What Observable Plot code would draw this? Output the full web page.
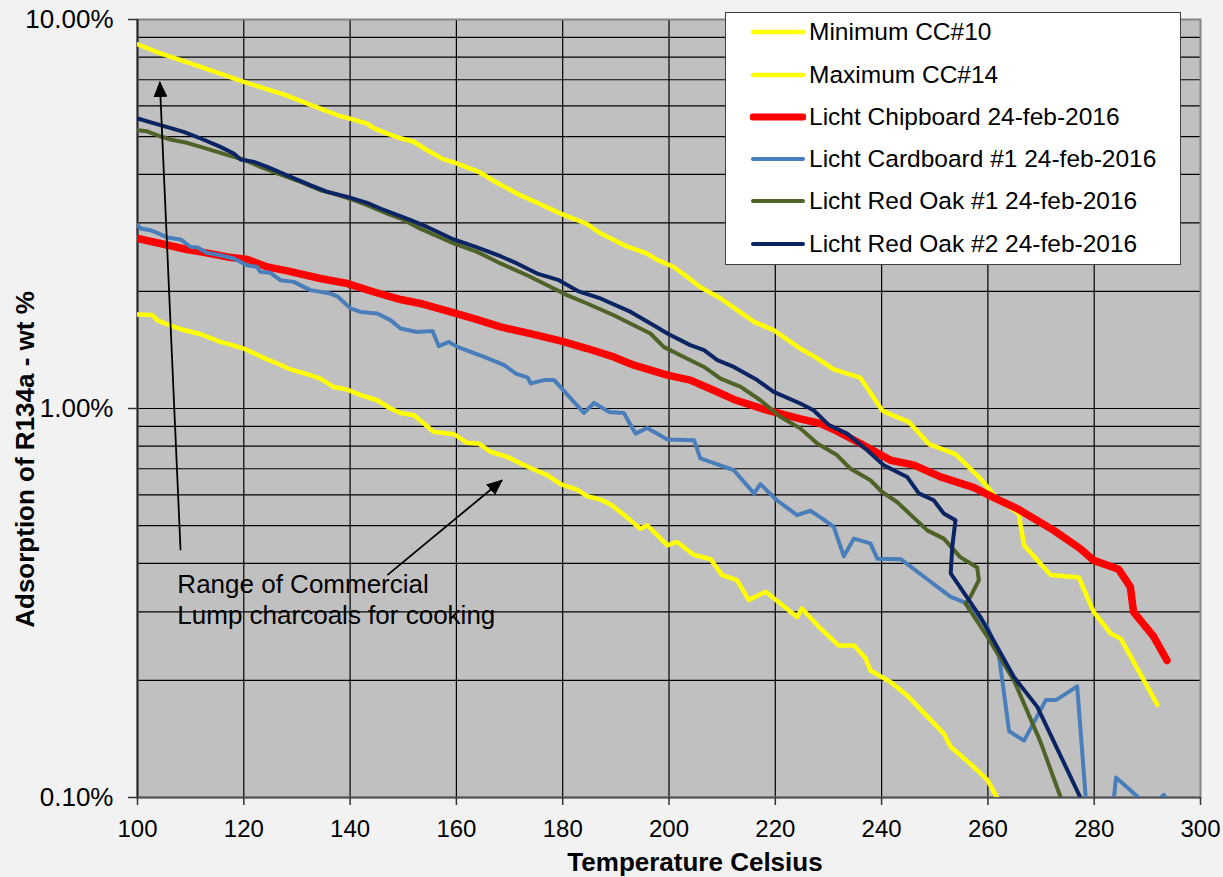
<!DOCTYPE html>
<html><head><meta charset="utf-8">
<script src="https://cdn.jsdelivr.net/npm/d3@7"></script>
<script src="https://cdn.jsdelivr.net/npm/@observablehq/plot@0.6"></script>
<style>
body{margin:0;background:#F2F2F2;font-family:"Liberation Sans",Arial,sans-serif;}
#wrap{position:relative;width:1223px;height:877px;overflow:hidden;}
#legend{position:absolute;left:725px;top:12px;width:454px;height:251px;background:#fff;border:1.5px solid #404040;}
.row{position:absolute;left:0;height:30px;display:flex;align-items:center;font-size:24.5px;color:#000;white-space:nowrap;}
.row svg{margin-left:24px;margin-right:3px;}
</style></head><body><div id="wrap"></div>
<script>
// ---- series names / styles ----
const seriesNames = ["Minimum CC#10","Maximum CC#14","Licht Chipboard 24-feb-2016","Licht Cardboard #1 24-feb-2016","Licht Red Oak #1 24-feb-2016","Licht Red Oak #2 24-feb-2016"];
const seriesColors = ["#FFFF00","#FFFF00","#FF0000","#4A7EBB","#4F6228","#0B2463"];
const seriesWidths = [4.5,4.5,7.5,4,4,4];

// ---- data: [temperature °C, adsorption wt %] ----
const minimumCC10 = [[100,1.745],[102.8,1.738],[103.7,1.687],[104.9,1.66],[108.4,1.596],[111.9,1.552],[115.6,1.483],[117.5,1.46],[120,1.426],[123.1,1.362],[126.3,1.305],[128.8,1.26],[132.5,1.218],[134.4,1.194],[136.9,1.136],[139.4,1.119],[142,1.082],[145.1,1.05],[147.6,1.0],[149.5,0.974],[152,0.961],[153.9,0.915],[155.7,0.871],[159.5,0.859],[160.8,0.838],[162,0.816],[164.2,0.813],[166.4,0.774],[169.6,0.751],[172.1,0.722],[174.6,0.697],[177.1,0.674],[179.6,0.639],[182.7,0.619],[184.6,0.595],[187.1,0.583],[189,0.567],[192.1,0.525],[194.6,0.491],[195.9,0.501],[199.7,0.445],[201.5,0.454],[204.7,0.42],[207.8,0.41],[210,0.373],[212.8,0.362],[215,0.322],[218.2,0.338],[224.1,0.291],[225,0.306],[228.5,0.272],[231.9,0.246],[234.8,0.246],[237,0.228],[237.9,0.212],[241.7,0.198],[244.8,0.183],[251.7,0.146],[253,0.135],[256.7,0.122],[259.9,0.111],[261.7,0.1],[263,0.093]];
const maximumCC14 = [[100,8.63],[104.3,8.18],[111.9,7.55],[120,6.91],[127.5,6.42],[134.4,5.9],[138.2,5.64],[140.7,5.53],[143.2,5.4],[144.5,5.25],[147,5.09],[149.5,4.95],[152,4.85],[154.5,4.61],[157.6,4.37],[159.8,4.28],[164.2,4.06],[167.7,3.8],[172.1,3.53],[175.8,3.35],[179.6,3.17],[184.6,2.98],[187.1,2.82],[192.1,2.61],[195.9,2.5],[197.8,2.41],[200.9,2.31],[203.4,2.18],[205.9,2.05],[209.7,1.92],[216,1.67],[219.7,1.59],[224.7,1.426],[227.9,1.345],[231,1.26],[236,1.2],[240.1,0.99],[241,0.974],[245.1,0.924],[248.9,0.81],[253.9,0.763],[258.6,0.66],[261.7,0.587],[265.8,0.537],[266.8,0.445],[271.8,0.373],[277.1,0.368],[279.9,0.30],[283.1,0.264],[285,0.256],[291.9,0.173]];
const chipboard = [[100,2.735],[104.3,2.656],[109.3,2.563],[111.9,2.527],[116.9,2.453],[120.7,2.415],[124.4,2.312],[128.2,2.258],[134.4,2.159],[139.5,2.095],[144.5,1.993],[149.5,1.906],[153.2,1.862],[158.9,1.771],[163.3,1.703],[168.3,1.621],[173.3,1.564],[179.6,1.492],[184.6,1.426],[189.6,1.357],[193.4,1.292],[199.7,1.218],[204,1.183],[208.4,1.114],[212.2,1.055],[218.4,0.99],[224.7,0.94],[228.5,0.915],[231,0.883],[236,0.813],[241.7,0.736],[246.1,0.715],[251.1,0.667],[257.4,0.626],[261.1,0.59],[265.5,0.553],[272.4,0.486],[277.4,0.436],[279.9,0.407],[284.6,0.386],[286.8,0.348],[287.4,0.30],[291.2,0.259],[293.7,0.225]];
const cardboard1 = [[100,2.96],[100.6,2.902],[102.4,2.873],[103.7,2.827],[105.6,2.752],[108.1,2.72],[110,2.603],[111.3,2.594],[113.1,2.512],[115.6,2.478],[118.1,2.43],[120.6,2.335],[122.5,2.312],[123.1,2.245],[125,2.232],[126.9,2.137],[129.4,2.116],[132.5,2.015],[136.3,1.975],[137.6,1.943],[140.1,1.808],[142,1.771],[145.1,1.755],[147.6,1.687],[149.5,1.606],[152.6,1.573],[155.5,1.582],[156.7,1.446],[158.6,1.483],[160.2,1.44],[165.2,1.357],[169,1.292],[171.2,1.23],[173.4,1.201],[174,1.16],[176.5,1.183],[178.4,1.183],[182.1,1.04],[184,0.974],[185.9,1.034],[188.7,0.98],[191.5,0.974],[193.7,0.862],[195.9,0.891],[199.7,0.832],[204.7,0.829],[205.9,0.744],[212.2,0.694],[216,0.605],[217.2,0.639],[220.3,0.581],[224.1,0.532],[226.6,0.546],[228.5,0.525],[231,0.496],[232.9,0.417],[234.8,0.463],[237.9,0.45],[239.2,0.411],[243.6,0.41],[248.6,0.364],[253,0.328],[255.5,0.318],[259.9,0.275],[262.1,0.23],[264,0.148],[266.8,0.14],[270.9,0.178],[272.8,0.178],[276.8,0.193],[278.4,0.1],[280,0.075],[283,0.08],[284.1,0.1125],[288.7,0.099],[291,0.096],[293.1,0.1015],[294,0.097]];
const redOak1 = [[100,5.19],[101.8,5.16],[104.3,5.01],[106.2,4.915],[109.3,4.82],[111.9,4.705],[115,4.567],[118.1,4.434],[120,4.367],[123.1,4.18],[126.3,4.02],[130.7,3.824],[134.4,3.64],[136.9,3.57],[140.7,3.432],[143.2,3.331],[147,3.171],[149.5,3.078],[153.2,2.9],[159.5,2.656],[163.9,2.527],[168.3,2.36],[173.3,2.201],[177.1,2.075],[180.8,1.956],[184.6,1.862],[189.6,1.737],[196.5,1.559],[199,1.44],[202.8,1.357],[206.6,1.279],[209.7,1.194],[213.5,1.136],[217.2,1.05],[221,0.951],[224.7,0.889],[227.9,0.813],[231.6,0.759],[234.1,0.701],[237.9,0.654],[240.1,0.61],[242.9,0.575],[248.6,0.486],[251.7,0.463],[254.8,0.415],[258,0.39],[258.3,0.362],[256.7,0.328],[255.8,0.315],[259.9,0.259],[264.9,0.2],[269.9,0.139],[273.7,0.1],[275,0.09]];
const redOak2 = [[100,5.565],[104.3,5.35],[108.7,5.14],[111.9,4.944],[115.6,4.705],[118.1,4.524],[119.4,4.367],[121.9,4.305],[124.4,4.18],[128.8,3.939],[132.5,3.75],[135.7,3.604],[139.5,3.5],[143.2,3.377],[145.7,3.267],[148.2,3.171],[151.4,3.048],[154.5,2.929],[159.5,2.72],[163.9,2.594],[168.3,2.463],[171.4,2.36],[175.2,2.223],[179.3,2.137],[183,2.0],[187.1,1.918],[192.8,1.771],[197.1,1.637],[199.7,1.559],[204,1.455],[206.6,1.412],[209.1,1.331],[212.2,1.279],[216.6,1.183],[219.7,1.103],[224.7,1.03],[227.2,0.99],[230.1,0.906],[233.5,0.862],[237.3,0.781],[240.4,0.715],[244.8,0.667],[247,0.605],[249.8,0.581],[251.7,0.537],[253.9,0.516],[253.3,0.441],[253,0.377],[258.6,0.291],[264.9,0.204],[269.3,0.171],[277.4,0.1],[279,0.088]];
const seriesData = [minimumCC10, maximumCC14, chipboard, cardboard1, redOak1, redOak2];

// ---- ticks / grid ----
const xTicks = [100,120,140,160,180,200,220,240,260,280,300];
const xGrid = [120,140,160,180,200,220,240,260,280];
const yTicks = [0.1,1,10];
const yGrid = [0.2,0.3,0.4,0.5,0.6,0.7,0.8,0.9,1,2,3,4,5,6,7,8,9];

// ---- annotations ----
const annotationLabels = [{T:107.5, v:0.3238, text:"Range of Commercial\nLump charcoals for cooking"}];
const annotationArrows = [{x1:108.1, y1:0.432, x2:104.2, y2:6.91},{x1:147.0, y1:0.373, x2:168.6, y2:0.654}];
const xTitle = "Temperature Celsius";
const yTitle = "Adsorption of R134a - wt %";

const lineMarks = seriesData.map((data, i) => Plot.line(data, {
  x: d => d[0], y: d => d[1], stroke: seriesColors[i], strokeWidth: seriesWidths[i], clip: true
}));

const svg = Plot.plot({
  width: 1223, height: 877,
  marginLeft: 137, marginRight: 23, marginTop: 19, marginBottom: 80,
  style: {background: "transparent", fontFamily: "'Liberation Sans', Arial, sans-serif", fontSize: "24px", color: "#000", overflow: "visible"},
  x: {domain: [100, 300]},
  y: {type: "log", domain: [0.1, 10]},
  marks: [
    Plot.frame({fill: "#C0C0C0", stroke: "none"}),
    Plot.ruleX(xGrid, {stroke: "#000", strokeWidth: 1.2}),
    Plot.ruleY(yGrid, {stroke: "#000", strokeWidth: 1.2}),
    Plot.frame({stroke: "#868686", strokeWidth: 2}),
    Plot.ruleX([100], {stroke: "#2a2a2a", strokeWidth: 2}),
    Plot.ruleY([0.1], {stroke: "#555", strokeWidth: 2}),
    ...lineMarks,
    Plot.text(annotationLabels, {x: "T", y: "v", text: "text", textAnchor: "start", lineAnchor: "middle", lineHeight: 1.18, fontSize: 26, fill: "#000"}),
    Plot.link(annotationArrows, {x1: "x1", y1: "y1", x2: "x2", y2: "y2", stroke: "#000", strokeWidth: 1.8, markerEnd: "arrow", ariaDescription: "annotation-arrow"}),
    Plot.axisX({ticks: xTicks, tickSize: 8, tickPadding: 14, label: null, fontSize: 24, strokeWidth: 1.5, stroke: "#333"}),
    Plot.axisY({ticks: yTicks, tickFormat: d => d.toFixed(2) + "%", tickSize: 9, tickPadding: 15, label: null, fontSize: 26, strokeWidth: 1.5, stroke: "#333"}),
    Plot.text([xTitle], {frameAnchor: "bottom", text: d => d, dx: 26, dy: 65, lineAnchor: "middle", textAnchor: "middle", fontWeight: "bold", fontSize: 26}),
    Plot.text([yTitle], {frameAnchor: "left", text: d => d, dx: -112, dy: 51, rotate: -90, lineAnchor: "middle", textAnchor: "middle", fontWeight: "bold", fontSize: 26})
  ]
});

// filled arrowheads for annotation links
const ns = "http://www.w3.org/2000/svg";
const defs = document.createElementNS(ns, "defs");
const marker = document.createElementNS(ns, "marker");
marker.setAttribute("id", "ahead");
marker.setAttribute("markerUnits", "userSpaceOnUse");
marker.setAttribute("markerWidth", "16");
marker.setAttribute("markerHeight", "14");
marker.setAttribute("viewBox", "0 0 16 14");
marker.setAttribute("refX", "15");
marker.setAttribute("refY", "7");
marker.setAttribute("orient", "auto");
const mp = document.createElementNS(ns, "path");
mp.setAttribute("d", "M0,0L16,7L0,14Z");
mp.setAttribute("fill", "#000");
mp.setAttribute("stroke", "none");
marker.appendChild(mp);
defs.appendChild(marker);
svg.insertBefore(defs, svg.firstChild);
svg.querySelectorAll("path[marker-end]").forEach(p => p.setAttribute("marker-end", "url(#ahead)"));
svg.querySelectorAll("g[marker-end]").forEach(g => g.setAttribute("marker-end", "url(#ahead)"));

const wrap = document.getElementById("wrap");
wrap.appendChild(svg);

// legend
const legend = document.createElement("div");
legend.id = "legend";
seriesNames.forEach((name, i) => {
  const row = document.createElement("div");
  row.className = "row";
  row.style.top = (20.7 + i * 42.3 - 1.5 - 15) + "px";
  row.innerHTML = `<svg width="56" height="12"><line x1="3" y1="6" x2="53" y2="6" stroke="${seriesColors[i]}" stroke-width="${Math.min(seriesWidths[i], 7)}" stroke-linecap="round"/></svg><span>${name}</span>`;
  legend.appendChild(row);
});
wrap.appendChild(legend);
</script></body></html>
